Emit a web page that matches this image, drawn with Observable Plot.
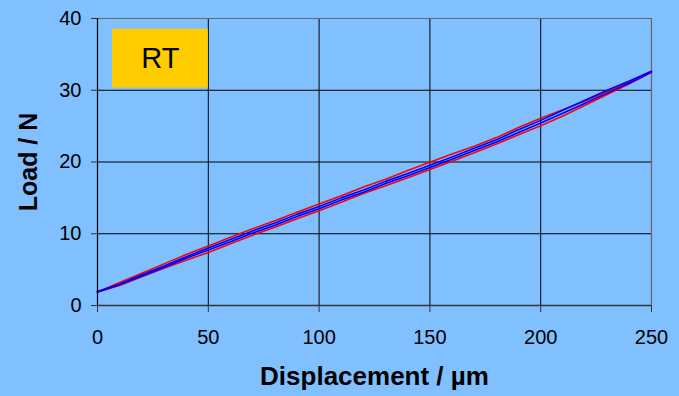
<!DOCTYPE html>
<html>
<head>
<meta charset="utf-8">
<script src="https://cdn.jsdelivr.net/npm/d3@7"></script>
<script src="https://cdn.jsdelivr.net/npm/@observablehq/plot@0.6"></script>
<style>
  html, body { margin: 0; padding: 0; background: #80C0FF; }
  #chart svg { display: block; }
</style>
</head>
<body>
<div id="chart"></div>
<script>
// Displacement sampling (µm)
const displacement = [0, 10, 20, 30, 40, 50, 60, 70, 80, 90, 100, 110, 120, 130, 140, 150, 160, 170, 180, 190, 200, 210, 220, 230, 240, 250];

// Load (N), red test: loading and unloading branches
const redLoading   = [1.9, 3.2, 4.5, 5.8, 7.1, 8.3, 9.5, 10.7, 11.8, 13.0, 14.15, 15.3, 16.5, 17.6, 18.8, 19.95, 21.1, 22.2, 23.4, 24.8, 26.1, 27.3, 28.5, 29.8, 31.1, 32.65];
const redUnloading = [1.9, 2.8, 4.0, 5.2, 6.3, 7.4, 8.6, 9.8, 10.9, 12.1, 13.2, 14.4, 15.6, 16.7, 17.8, 18.95, 20.1, 21.3, 22.5, 23.8, 25.05, 26.4, 27.9, 29.4, 30.9, 32.5];

// Load (N), blue test: loading and unloading branches
const blueLoading   = [1.9, 3.0, 4.3, 5.5, 6.8, 8.0, 9.2, 10.4, 11.5, 12.7, 13.8, 15.0, 16.1, 17.3, 18.4, 19.55, 20.7, 21.9, 23.1, 24.5, 25.8, 27.2, 28.6, 30.0, 31.3, 32.65];
const blueUnloading = [1.9, 2.9, 4.1, 5.3, 6.6, 7.75, 8.9, 10.1, 11.2, 12.4, 13.5, 14.7, 15.8, 17.0, 18.1, 19.25, 20.4, 21.6, 22.8, 24.1, 25.45, 26.8, 28.2, 29.6, 31.0, 32.55];

// Axis ticks
const xTicks = [0, 50, 100, 150, 200, 250];
const yTicks = [0, 10, 20, 30, 40];

// Label box (data coordinates of its corners) and its text
const tagLabel = "RT";
const tagBox = {x1: 6.8, x2: 50, y1: 30.3, y2: 38.5};

const series = [
  {name: "red-load", color: "#FF0000", values: redLoading},
  {name: "red-unload", color: "#FF0000", values: redUnloading},
  {name: "blue-unload", color: "#0000FF", values: blueUnloading},
  {name: "blue-load", color: "#0000FF", values: blueLoading}
];
const rows = series.flatMap(s => s.values.map((v, i) => ({series: s.name, color: s.color, x: displacement[i], y: v})));

const font = "'Liberation Sans', Arial, sans-serif";

const chart = Plot.plot({
  width: 679,
  height: 396,
  marginLeft: 97,
  marginRight: 28,
  marginTop: 18,
  marginBottom: 91,
  style: {background: "#80C0FF", fontFamily: font, fontSize: "20px", color: "#000"},
  x: {domain: [0, 250], ticks: xTicks, label: null},
  y: {domain: [0, 40], ticks: yTicks, label: null},
  marks: [
    Plot.gridX(xTicks.slice(1, -1), {stroke: "#000", strokeOpacity: 1, strokeWidth: 1}),
    Plot.gridY(yTicks.slice(1, -1), {stroke: "#000", strokeOpacity: 1, strokeWidth: 1}),
    Plot.ruleY([40], {stroke: "#666", strokeWidth: 1.2}),
    Plot.ruleX([250], {stroke: "#666", strokeWidth: 1.2}),
    Plot.rect([tagBox], {x1: "x1", x2: "x2", y1: "y1", y2: "y2", fill: "#FFCC00"}),
    Plot.text([tagLabel], {
      x: (tagBox.x1 + tagBox.x2) / 2, y: (tagBox.y1 + tagBox.y2) / 2,
      text: d => d, fontSize: 29, fill: "#000"
    }),
    Plot.line(rows, {x: "x", y: "y", z: "series", stroke: "color", strokeWidth: 1.6, curve: "linear"}),
    Plot.ruleX([0], {stroke: "#000", strokeWidth: 1.2}),
    Plot.ruleY([0], {stroke: "#333", strokeWidth: 1.5}),
    Plot.axisX(xTicks, {tickSize: 7, tickPadding: 17, stroke: "#333", fontSize: 20, label: null}),
    Plot.axisY(yTicks, {tickSize: 6, tickPadding: 10, stroke: "#333", fontSize: 20, label: null}),
    Plot.text(["Displacement / µm"], {
      frameAnchor: "bottom", dy: 79, text: d => d,
      fontSize: 26, fontWeight: "bold", fill: "#000"
    }),
    Plot.text(["Load / N"], {
      frameAnchor: "left", dx: -69, rotate: -90, textAnchor: "middle", text: d => d,
      fontSize: 25, fontWeight: "bold", fill: "#000"
    })
  ]
});

document.getElementById("chart").appendChild(chart);
</script>
</body>
</html>
